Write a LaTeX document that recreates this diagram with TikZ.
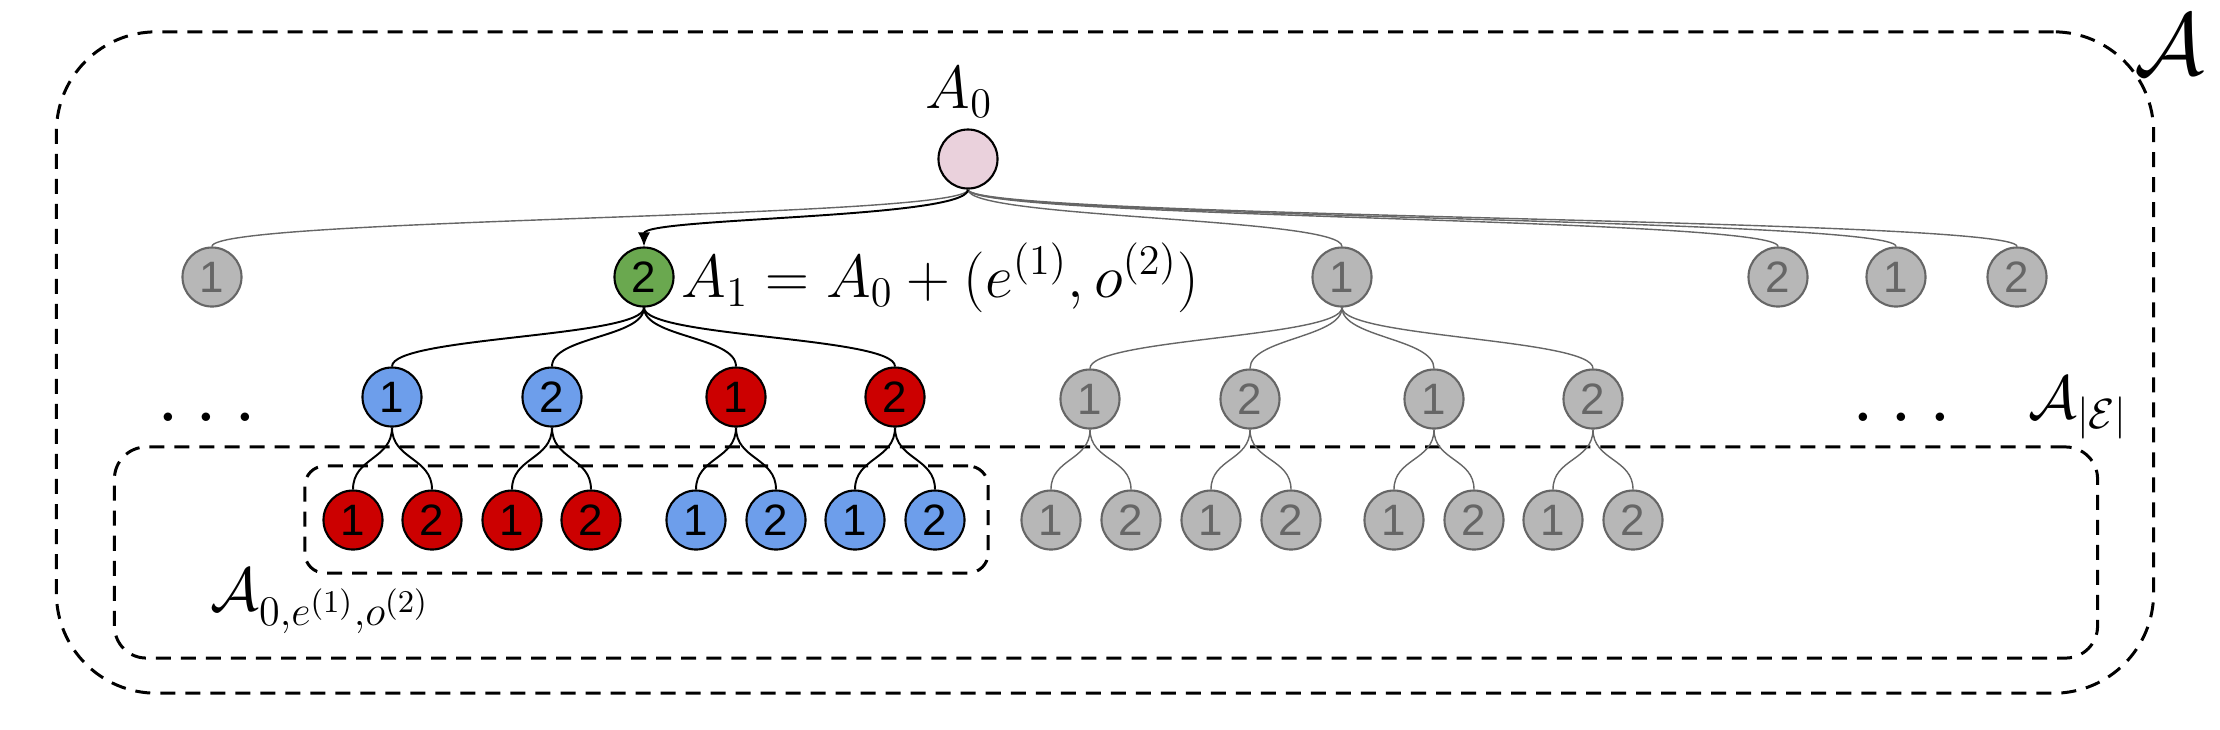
\documentclass[tikz,border=0pt]{standalone}
\usepackage{fontspec}
\newfontfamily\arialfont{Liberation Sans}
\usetikzlibrary{arrows.meta}
\definecolor{ggray}{HTML}{B7B7B7}
\definecolor{gline}{HTML}{666666}
\definecolor{pink1}{HTML}{EAD1DC}
\definecolor{green1}{HTML}{6AA84F}
\definecolor{blue1}{HTML}{6D9EEB}
\definecolor{red1}{HTML}{CC0000}
\begin{document}
\begin{tikzpicture}[x=0.01cm,y=-0.01cm,
  nd/.style={circle,draw,line width=0.6pt,minimum size=0.59cm,inner sep=0pt,font=\arialfont\fontsize{12.5}{14}\selectfont},
  gnode/.style={nd,fill=ggray,draw=gline,text=gline},
  rootnode/.style={nd,fill=pink1,draw=black},
  greennode/.style={nd,fill=green1,draw=black},
  bluenode/.style={nd,fill=blue1,draw=black},
  rednode/.style={nd,fill=red1,draw=black},
  blk/.style={line width=0.55pt,black},
  gry/.style={line width=0.4pt,gline},
  scurve/.style={to path={.. controls +(0,#1) and +(0,-#1) .. (\tikztotarget)}},
  dbox/.style={draw,line width=0.85pt,dash pattern=on 0.15cm off 0.1cm,inner sep=0pt},
  lbl/.style={inner sep=0pt,anchor=base west}
]
\useasboundingbox (0,0) rectangle (2220,729);

% dashed boxes
\node[dbox,rounded corners=1cm,minimum width=20.96cm,minimum height=6.61cm] (outer) at (1105,362.5) {};
\node[dbox,rounded corners=0.32cm,minimum width=19.82cm,minimum height=2.11cm] (middle) at (1106,552.5) {};
\node[dbox,rounded corners=0.2cm,minimum width=6.83cm,minimum height=1.07cm] (inner) at (646.5,519.5) {};

% root
\node[rootnode] (r) at (968,159) {};
\node[lbl,font=\fontsize{18.7}{22}\selectfont] (l0) at (925,108) {$A_0$};

% level 1
\node[gnode] (a1) at (212,277) {1};
\node[greennode] (a2) at (644,277) {2};
\node[gnode] (a3) at (1342,277) {1};
\node[gnode] (a4) at (1778,277) {2};
\node[gnode] (a5) at (1896,277) {1};
\node[gnode] (a6) at (2017,277) {2};
\node[lbl,font=\fontsize{16.4}{19}\selectfont] (l1) at (681,297) {$A_1=A_0+(e^{(1)},o^{(2)})$};

% level 2
\node[bluenode] (b1) at (392,397) {1};
\node[bluenode] (b2) at (552,397) {2};
\node[rednode] (b3) at (736,397) {1};
\node[rednode] (b4) at (895,397) {2};
\node[gnode] (b5) at (1090,399) {1};
\node[gnode] (b6) at (1250,399) {2};
\node[gnode] (b7) at (1434,399) {1};
\node[gnode] (b8) at (1593,399) {2};

% level 3
\node[rednode] (c1) at (353,520) {1};
\node[rednode] (c2) at (432,520) {2};
\node[rednode] (c3) at (512,520) {1};
\node[rednode] (c4) at (591,520) {2};
\node[bluenode] (c5) at (696,520) {1};
\node[bluenode] (c6) at (776,520) {2};
\node[bluenode] (c7) at (855,520) {1};
\node[bluenode] (c8) at (935,520) {2};
\node[gnode] (c9) at (1051,520) {1};
\node[gnode] (c10) at (1131,520) {2};
\node[gnode] (c11) at (1211,520) {1};
\node[gnode] (c12) at (1291,520) {2};
\node[gnode] (c13) at (1394,520) {1};
\node[gnode] (c14) at (1474,520) {2};
\node[gnode] (c15) at (1553,520) {1};
\node[gnode] (c16) at (1633,520) {2};

% dots and set labels
\node[inner sep=0pt,font=\fontsize{25}{28}\selectfont] (dl) at (207,417) {$\ldots$};
\node[inner sep=0pt,font=\fontsize{25}{28}\selectfont] (dr) at (1902,417) {$\ldots$};
\node[lbl,font=\fontsize{18.5}{22}\selectfont] (lE) at (2028,418) {$\mathcal{A}_{|\mathcal{E}|}$};
\node[lbl,font=\fontsize{17.8}{21}\selectfont] (lsub) at (210,610) {$\mathcal{A}_{0,e^{(1)},o^{(2)}}$};
\node[lbl,font=\fontsize{25.5}{30}\selectfont] (lA) at (2134,74) {$\mathcal{A}$};

% root links
\draw[gry] (r.south) to[scurve=29] (a1.north);
\draw[gry] (r.south) to[scurve=29] (a3.north);
\draw[gry] (r.south) to[scurve=29] (a4.north);
\draw[gry] (r.south) to[scurve=29] (a5.north);
\draw[gry] (r.south) to[scurve=29] (a6.north);
\draw[blk,-{Latex[length=4pt,width=3.5pt]}] (r.south) to[scurve=29] (a2.north);

% level1 -> level2
\foreach \c in {b1,b2,b3,b4} \draw[blk] (a2.south) to[scurve=30] (\c.north);
\foreach \c in {b5,b6,b7,b8} \draw[gry] (a3.south) to[scurve=30] (\c.north);

% level2 -> level3
\draw[blk] (b1.south) to[scurve=32] (c1.north);
\draw[blk] (b1.south) to[scurve=32] (c2.north);
\draw[blk] (b2.south) to[scurve=32] (c3.north);
\draw[blk] (b2.south) to[scurve=32] (c4.north);
\draw[blk] (b3.south) to[scurve=32] (c5.north);
\draw[blk] (b3.south) to[scurve=32] (c6.north);
\draw[blk] (b4.south) to[scurve=32] (c7.north);
\draw[blk] (b4.south) to[scurve=32] (c8.north);
\draw[gry] (b5.south) to[scurve=31] (c9.north);
\draw[gry] (b5.south) to[scurve=31] (c10.north);
\draw[gry] (b6.south) to[scurve=31] (c11.north);
\draw[gry] (b6.south) to[scurve=31] (c12.north);
\draw[gry] (b7.south) to[scurve=31] (c13.north);
\draw[gry] (b7.south) to[scurve=31] (c14.north);
\draw[gry] (b8.south) to[scurve=31] (c15.north);
\draw[gry] (b8.south) to[scurve=31] (c16.north);
\end{tikzpicture}
\end{document}
